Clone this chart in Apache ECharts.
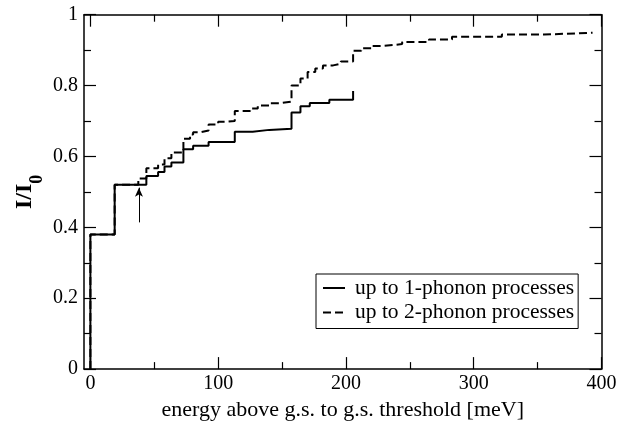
<!DOCTYPE html>
<html>
<head>
<meta charset="utf-8">
<script src="https://cdn.jsdelivr.net/npm/echarts@6/dist/echarts.min.js"></script>
<style>
  html, body { margin: 0; padding: 0; background: #fff; }
  #chart { width: 628px; height: 426px; }
</style>
</head>
<body>
<div id="chart"></div>
<script>
// 1-phonon (solid) step curve: x where the step happens, level after it
var oneX = [0, 0, 19, 43.8, 53, 58, 63.4, 72.8, 80.4, 92.5, 113, 127, 140, 157.4, 164.4, 171.7, 187, 205.6]
var oneY = [0, 0.38, 0.52, 0.545, 0.556, 0.572, 0.583, 0.62, 0.63, 0.641, 0.67, 0.675, 0.678, 0.724, 0.742, 0.751, 0.76, 0.785]

// 2-phonon (dashed) step curve
var twoX = [0, 0, 19, 37.5, 43.8, 53, 58, 63.4, 72.8, 78, 80.4, 86, 92.5, 100, 107, 113, 125, 131, 140, 148,
  157.4, 164.4, 170, 176, 182, 190, 196, 205.6, 212, 220, 230, 244, 265, 283, 322, 355, 393]
var twoY = [0, 0.38, 0.52, 0.538, 0.567, 0.577, 0.595, 0.611, 0.65, 0.662, 0.668, 0.673, 0.69, 0.698, 0.70, 0.728, 0.735, 0.744, 0.75, 0.755,
  0.80, 0.82, 0.838, 0.848, 0.857, 0.862, 0.868, 0.898, 0.905, 0.912, 0.917, 0.923, 0.93, 0.938, 0.944, 0.949, 0.949]

// ticks
var xMajor = [0, 100, 200, 300, 400]
var xMinor = [50, 150, 250, 350]

// arrow marking the threshold
var arrowX = 38
var arrowY = [0.414, 0.512]

var FONT = 'Liberation Serif'

function zip(xs, ys) {
  return xs.map(function (x, i) { return [x, ys[i]] })
}

var chart = echarts.init(document.getElementById('chart'))

function xAx(pos, ticks, len, withLine, withLabel) {
  return {
    type: 'value', min: -5, max: 400, position: pos,
    axisLine: { show: withLine, onZero: false, lineStyle: { color: '#000', width: 1.5 } },
    axisTick: { show: true, inside: true, length: len, customValues: ticks, lineStyle: { color: '#000', width: 1.2 } },
    axisLabel: withLabel ? {
      show: true, customValues: ticks, margin: 5,
      fontFamily: FONT, fontSize: 20, color: '#000'
    } : { show: false },
    splitLine: { show: false }
  }
}

function yAx(pos, withLabel) {
  return {
    type: 'value', min: 0, max: 1, interval: 0.2, position: pos,
    axisLine: { show: true, onZero: false, lineStyle: { color: '#000', width: 1.5 } },
    axisTick: { show: true, inside: true, length: 12, lineStyle: { color: '#000', width: 1.2 } },
    minorTick: { show: true, splitNumber: 2, length: 7, lineStyle: { color: '#000', width: 1.2 } },
    axisLabel: withLabel ? { show: true, margin: 6, fontFamily: FONT, fontSize: 20, color: '#000' } : { show: false },
    splitLine: { show: false },
    minorSplitLine: { show: false }
  }
}

// y name "I/I0": main part and subscript on two left axes (the subscript sits lower)
var nameRich = {
  a: { fontFamily: FONT, fontSize: 24, fontWeight: 'bold', color: '#000' },
  b: { fontFamily: FONT, fontSize: 18, fontWeight: 'bold', color: '#000' },
  ha: { fontFamily: FONT, fontSize: 24, fontWeight: 'bold', color: 'rgba(0,0,0,0)' },
  hb: { fontFamily: FONT, fontSize: 18, fontWeight: 'bold', color: 'rgba(0,0,0,0)' }
}

var xBottom = xAx('bottom', xMajor, 12, true, true)
xBottom.name = 'energy above g.s. to g.s. threshold [meV]'
xBottom.nameLocation = 'middle'
xBottom.nameGap = 22
xBottom.nameTextStyle = { fontFamily: FONT, fontSize: 22, color: '#000' }

var yLeft = yAx('left', true)
yLeft.name = '{a|I/I}{hb|0}'
yLeft.nameLocation = 'middle'
yLeft.nameRotate = 90
yLeft.nameGap = 47
yLeft.nameTextStyle = { fontFamily: FONT, color: '#000', rich: nameRich }

var ySub = {
  type: 'value', min: 0, max: 1, position: 'left',
  axisLine: { show: false, onZero: false },
  axisTick: { show: false },
  axisLabel: { show: false },
  splitLine: { show: false },
  name: '{ha|I/I}{b|0}',
  nameLocation: 'middle',
  nameRotate: 90,
  nameGap: 35,
  nameTextStyle: { fontFamily: FONT, color: '#000', rich: nameRich }
}

var option = {
  backgroundColor: '#fff',
  animation: false,
  grid: { left: 84, right: 26.5, top: 14.7, bottom: 48.3, containLabel: false },
  legend: {
    orient: 'vertical',
    left: 316, top: 274,
    padding: [3, 4, 5, 6],
    itemGap: 2.5,
    itemWidth: 22, itemHeight: 14,
    borderColor: '#000', borderWidth: 1,
    backgroundColor: '#fff',
    itemStyle: { opacity: 0 },
    textStyle: { fontFamily: FONT, fontSize: 21.5, color: '#000', lineHeight: 22, padding: [0, 0, 0, 5] },
    data: ['up to 1-phonon processes', 'up to 2-phonon processes']
  },
  xAxis: [
    xBottom,
    xAx('bottom', xMinor, 7, false, false),
    xAx('top', xMajor, 12, true, false),
    xAx('top', xMinor, 7, false, false)
  ],
  yAxis: [yLeft, yAx('right', false), ySub],
  series: [
    {
      name: 'up to 1-phonon processes',
      type: 'line', step: 'end',
      xAxisIndex: 0, yAxisIndex: 0,
      symbol: 'none',
      lineStyle: { color: '#000', width: 2, type: 'solid' },
      itemStyle: { color: '#000' },
      data: zip(oneX, oneY),
      markLine: {
        silent: true,
        symbol: ['none', 'arrow'],
        symbolSize: [6, 9],
        label: { show: false },
        lineStyle: { color: '#000', width: 1, type: 'solid' },
        data: [[{ coord: [arrowX, arrowY[0]] }, { coord: [arrowX, arrowY[1]] }]]
      }
    },
    {
      name: 'up to 2-phonon processes',
      type: 'line', step: 'end',
      xAxisIndex: 0, yAxisIndex: 0,
      symbol: 'none',
      lineStyle: { color: '#000', width: 2, type: [8, 4] },
      itemStyle: { color: '#000' },
      data: zip(twoX, twoY)
    }
  ]
}

chart.setOption(option)
</script>
</body>
</html>
